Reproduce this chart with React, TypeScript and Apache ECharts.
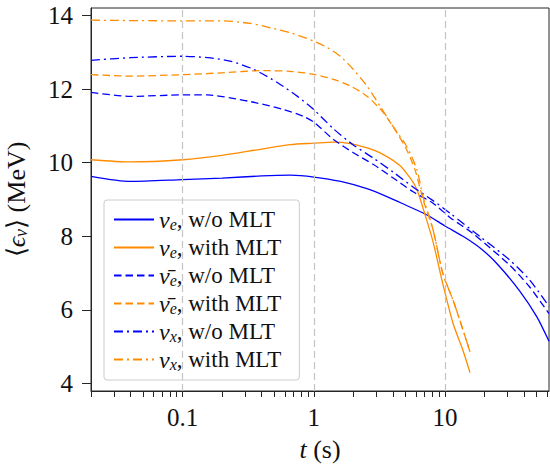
import React, { useEffect, useRef } from "react";
import * as echarts from "echarts";

// ---- data (t in seconds, mean energy in MeV) ----
const tNueWo = [0.02, 0.04, 0.1, 0.2, 0.4, 0.66, 1.0, 1.6, 2.5, 3.6, 5.0, 7.3, 10, 14, 19, 25, 37, 50, 62];
const vNueWo = [9.63, 9.49, 9.54, 9.58, 9.64, 9.66, 9.61, 9.49, 9.3, 9.08, 8.85, 8.58, 8.28, 7.98, 7.65, 7.25, 6.52, 5.82, 5.15];

const tNueWith = [0.02, 0.04, 0.1, 0.2, 0.37, 0.66, 1.0, 1.4, 1.9, 2.55, 3.3, 4.5, 5.5, 6.1, 6.8, 8.1, 9.6, 11.5, 13.7, 15.5];
const vNueWith = [10.08, 10.02, 10.08, 10.2, 10.35, 10.49, 10.53, 10.56, 10.52, 10.4, 10.24, 9.93, 9.55, 9.27, 8.76, 7.85, 6.72, 5.64, 4.9, 4.3];

const tAnueWo = [0.02, 0.04, 0.1, 0.155, 0.23, 0.37, 0.59, 0.83, 1.0, 1.41, 2.0, 2.85, 4.0, 5.7, 8.1, 11, 16, 31, 44, 62];
const vAnueWo = [11.91, 11.8, 11.84, 11.84, 11.76, 11.62, 11.44, 11.26, 11.1, 10.63, 10.27, 9.95, 9.59, 9.21, 8.9, 8.5, 8.1, 7.22, 6.63, 5.9];

const tAnueWith = [0.02, 0.04, 0.1, 0.2, 0.41, 0.66, 1.0, 1.41, 1.9, 2.55, 3.4, 4.3, 5.1, 5.9, 6.8, 8.1, 9.6, 11.5, 13.7, 15.5];
const vAnueWith = [12.39, 12.35, 12.39, 12.44, 12.5, 12.48, 12.4, 12.26, 12.08, 11.8, 11.35, 10.81, 10.35, 9.81, 9.0, 8.18, 7.0, 6.27, 5.46, 4.86];

const tNuxWo = [0.02, 0.04, 0.1, 0.155, 0.23, 0.35, 0.53, 0.75, 1.0, 1.41, 2.0, 2.85, 4.0, 5.7, 8.1, 11, 18.5, 31, 44, 62];
const vNuxWo = [12.78, 12.85, 12.89, 12.85, 12.76, 12.53, 12.17, 11.8, 11.44, 10.92, 10.48, 10.12, 9.75, 9.34, 8.97, 8.62, 7.99, 7.36, 6.82, 6.1];

const tNuxWith = [0.02, 0.1, 0.2, 0.33, 0.47, 0.66, 0.89, 1.0, 1.26, 1.59, 2.0, 2.54, 3.2, 4.0, 5.1, 6.1, 6.8, 8.1, 9.6, 11.5, 13.7, 15.5];
const vNuxWith = [13.87, 13.85, 13.85, 13.78, 13.66, 13.53, 13.37, 13.3, 13.13, 12.89, 12.53, 12.08, 11.53, 10.99, 10.44, 9.81, 9.07, 8.18, 7.0, 6.27, 5.46, 4.86];

// ---- axis ticks / labels ----
const xMin = 0.02;
const xMax = 62;
const xTickValues = [
  0.02, 0.03, 0.04, 0.05, 0.06, 0.07, 0.08, 0.09,
  0.1, 0.2, 0.3, 0.4, 0.5, 0.6, 0.7, 0.8, 0.9,
  1, 2, 3, 4, 5, 6, 7, 8, 9,
  10, 20, 30, 40, 50, 60,
];
const xLabelValues = [0.1, 1, 10];
const xLabelTexts = ["0.1", "1", "10"];
const xGridValues = [0.1, 1, 10];
const yMin = 3.8;
const yMax = 14.2;
const yTickValues = [4, 6, 8, 10, 12, 14];

const seriesNames = ["nue_wo", "nue_with", "anue_wo", "anue_with", "nux_wo", "nux_with"];
const legendTexts: Record<string, string> = {
  nue_wo: "{g|ν}{s|e}{t|, w/o MLT}",
  nue_with: "{g|ν}{s|e}{t|, with MLT}",
  anue_wo: "{g|ν\u0304}{s|e}{t|, w/o MLT}",
  anue_with: "{g|ν\u0304}{s|e}{t|, with MLT}",
  nux_wo: "{g|ν}{s|x}{t|, w/o MLT}",
  nux_with: "{g|ν}{s|x}{t|, with MLT}",
};

const BLUE = "#0000ff";
const ORANGE = "#ff8c00";
const FONT = "Liberation Serif";
const DASHED = [7.5, 4];
const DASHDOT = [9, 4, 2, 4];

const lg = Math.log10;

function mk(name: string, t: number[], v: number[], color: string, type: any) {
  return {
    name,
    type: "line",
    z: 3,
    symbol: "none",
    showSymbol: false,
    smooth: 0.25,
    lineStyle: { color, width: 1.3, type },
    itemStyle: { color },
    data: t.map((x, i) => [lg(x), v[i]]),
  };
}

export default function App() {
  const ref = useRef<HTMLDivElement>(null);
  useEffect(() => {
    if (!ref.current) return;
    const chart = echarts.init(ref.current, undefined, { renderer: "svg" });
    const axisColor = "#262626";
    const option: any = {
      animation: false,
      textStyle: { fontFamily: FONT },
      grid: {
        left: 91,
        top: 8,
        right: 1,
        bottom: 74,
        show: true,
        borderColor: axisColor,
        borderWidth: 1,
        backgroundColor: "transparent",
        containLabel: false,
        outerBoundsMode: "none",
      },
      xAxis: {
        type: "value",
        min: lg(xMin),
        max: lg(xMax),
        axisLine: { show: true, onZero: false, lineStyle: { color: axisColor, width: 1 } },
        axisTick: {
          show: true,
          inside: false,
          length: 6,
          customValues: xTickValues.map(lg),
          lineStyle: { color: axisColor, width: 1 },
        },
        axisLabel: {
          customValues: xLabelValues.map(lg),
          formatter: (val: number) => {
            const i = xLabelValues.findIndex((x) => Math.abs(lg(x) - val) < 1e-6);
            return i >= 0 ? xLabelTexts[i] : "";
          },
          fontFamily: FONT,
          fontSize: 25,
          color: "#111",
          margin: 14,
        },
        splitLine: { show: false },
        name: "{i|t} (s)",
        nameLocation: "middle",
        nameGap: 45,
        nameTextStyle: {
          fontFamily: FONT,
          fontSize: 26,
          color: "#111",
          rich: { i: { fontFamily: FONT, fontSize: 26, fontStyle: "italic", color: "#111" } },
        },
      },
      yAxis: {
        type: "value",
        min: yMin,
        max: yMax,
        axisLine: { show: true, onZero: false, lineStyle: { color: axisColor, width: 1 } },
        axisTick: {
          show: true,
          inside: false,
          length: 9,
          customValues: yTickValues,
          lineStyle: { color: axisColor, width: 1 },
        },
        axisLabel: {
          customValues: yTickValues,
          fontFamily: FONT,
          fontSize: 25,
          color: "#111",
          margin: 18,
        },
        splitLine: { show: false },
        name: "⟨{i|ϵ}{s|ν}⟩ (MeV)",
        nameLocation: "middle",
        nameRotate: 90,
        nameGap: 61,
        nameTextStyle: {
          fontFamily: FONT,
          fontSize: 26,
          color: "#111",
          rich: {
            i: { fontFamily: FONT, fontSize: 26, fontStyle: "italic", color: "#111" },
            s: { fontFamily: FONT, fontSize: 18, fontStyle: "italic", color: "#111", padding: [10, 0, 0, 0] },
          },
        },
      },
      legend: {
        orient: "vertical",
        left: 104,
        top: 200,
        itemWidth: 40,
        itemHeight: 12,
        itemGap: 3,
        padding: [7, 18, 8, 9],
        backgroundColor: "rgba(255,255,255,0.8)",
        borderColor: "#cccccc",
        borderWidth: 1,
        borderRadius: 3,
        itemStyle: { opacity: 0 },
        data: seriesNames,
        formatter: (name: string) => legendTexts[name],
        textStyle: {
          fontFamily: FONT,
          fontSize: 23,
          color: "#111",
          rich: {
            g: { fontFamily: FONT, fontSize: 24, fontStyle: "italic", color: "#111", lineHeight: 23 },
            s: { fontFamily: FONT, fontSize: 16, fontStyle: "italic", color: "#111", padding: [9, 0, 0, 0], lineHeight: 23 },
            t: { fontFamily: FONT, fontSize: 23, color: "#111", lineHeight: 23 },
          },
        },
      },
      series: [
        {
          name: "grid",
          type: "line",
          z: 1,
          data: [],
          silent: true,
          markLine: {
            silent: true,
            symbol: "none",
            label: { show: false },
            lineStyle: { color: "#c4c4c4", type: [7, 4], width: 1.2 },
            data: xGridValues.map((x) => ({ xAxis: lg(x) })),
          },
        },
        mk("nue_wo", tNueWo, vNueWo, BLUE, "solid"),
        mk("nue_with", tNueWith, vNueWith, ORANGE, "solid"),
        mk("anue_wo", tAnueWo, vAnueWo, BLUE, DASHED),
        mk("anue_with", tAnueWith, vAnueWith, ORANGE, DASHED),
        mk("nux_wo", tNuxWo, vNuxWo, BLUE, DASHDOT),
        mk("nux_with", tNuxWith, vNuxWith, ORANGE, DASHDOT),
      ],
    };
    chart.setOption(option);
    return () => chart.dispose();
  }, []);
  return (
    <div
      ref={ref}
      style={{ position: "fixed", left: 0, top: 0, width: 550, height: 465, background: "#fff" }}
    />
  );
}
